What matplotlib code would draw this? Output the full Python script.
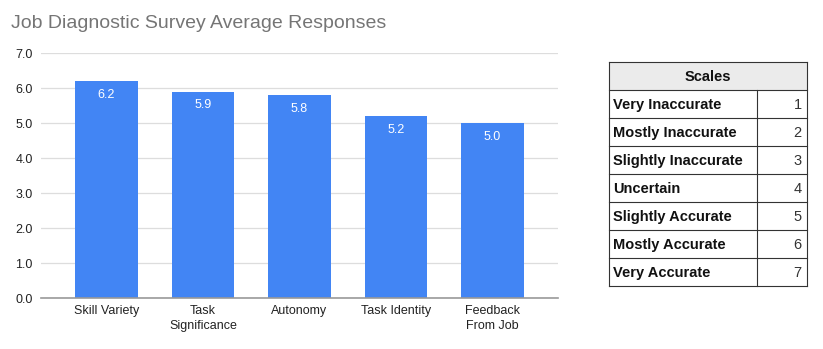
import matplotlib.pyplot as plt
import numpy as np

plt.rcParams["font.family"] = ["Liberation Sans", "DejaVu Sans"]

# Average responses per job dimension
categories = ["Skill Variety", "Task\nSignificance", "Autonomy", "Task Identity", "Feedback\nFrom Job"]
averages = [6.2, 5.9, 5.8, 5.2, 5.0]
y_ticks = [0, 1, 2, 3, 4, 5, 6, 7]

# Scale legend table
scale_labels = [
    "Very Inaccurate",
    "Mostly Inaccurate",
    "Slightly Inaccurate",
    "Uncertain",
    "Slightly Accurate",
    "Mostly Accurate",
    "Very Accurate",
]
scale_values = [1, 2, 3, 4, 5, 6, 7]

BAR_COLOR = "#4285f4"
W, H = 823, 349

fig = plt.figure(figsize=(W / 100, H / 100), dpi=100)
fig.patch.set_facecolor("white")

# --- bar chart ---
ax = fig.add_axes([41 / W, 1 - 298.3 / H, 517 / W, 245 / H])
x = np.arange(len(categories))
bars = ax.bar(x, averages, width=0.652, color=BAR_COLOR, zorder=2)
for rect, val in zip(bars, averages):
    ax.annotate(
        f"{val:.1f}",
        (rect.get_x() + rect.get_width() / 2, rect.get_height()),
        xytext=(0, -9.7),
        textcoords="offset points",
        ha="center",
        va="center",
        color="white",
        fontsize=9,
    )

ax.set_xlim(-0.678, len(categories) - 1 + 0.678)
ax.set_ylim(0, 7)
ax.set_yticks(y_ticks)
ax.set_yticklabels([f"{t:.1f}" for t in y_ticks])
ax.set_xticks(x)
ax.set_xticklabels(categories, linespacing=1.35)
ax.tick_params(axis="both", length=0, labelsize=9, colors="#222222")
ax.tick_params(axis="y", pad=6)
ax.tick_params(axis="x", pad=5)
ax.grid(axis="y", color="#dddddd", linewidth=0.9, zorder=0)
for side in ["top", "right", "left"]:
    ax.spines[side].set_visible(False)
ax.spines["bottom"].set_color("#999999")
ax.spines["bottom"].set_linewidth(1.2)
ax.spines["bottom"].set_zorder(3)

fig.text(11 / W, 1 - 28 / H, "Job Diagnostic Survey Average Responses",
         fontsize=14, color="#757575", va="baseline", ha="left")

# --- scale table ---
tax = fig.add_axes([609.3 / W, 1 - 286 / H, 197.4 / W, 223.7 / H])
n_rows = len(scale_labels) + 1
tax.set_xlim(0, 1)
tax.set_ylim(n_rows, 0)
tax.axis("off")
split = 0.75
edge = "#333333"
lw = 0.8
fs = 10.5

tax.add_patch(plt.Rectangle((0, 0), 1, 1, facecolor="#ebebeb", edgecolor="none"))
tax.text(0.5, 0.52, "Scales", ha="center", va="center", fontsize=fs, fontweight="bold", color="#111111")
for i, (label, val) in enumerate(zip(scale_labels, scale_values), start=1):
    tax.text(0.018, i + 0.52, label, ha="left", va="center", fontsize=fs,
             fontweight="bold", color="#111111")
    tax.text(0.975, i + 0.52, str(val), ha="right", va="center", fontsize=fs, color="#333333")

# grid lines of the table
for r in range(n_rows + 1):
    tax.plot([0, 1], [r, r], color=edge, linewidth=lw, clip_on=False, solid_capstyle="projecting")
tax.plot([0, 0], [0, n_rows], color=edge, linewidth=lw, clip_on=False)
tax.plot([1, 1], [0, n_rows], color=edge, linewidth=lw, clip_on=False)
tax.plot([split, split], [1, n_rows], color=edge, linewidth=lw, clip_on=False)

fig.savefig("out.png", dpi=100, facecolor="white")
